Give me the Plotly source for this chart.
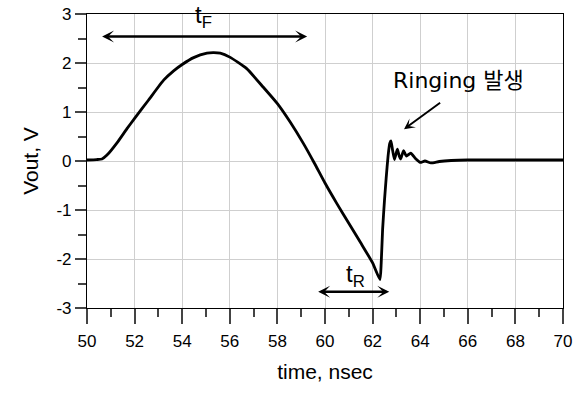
import plotly.graph_objects as go

# Waveform (time in ns, Vout in V)
time_ns = [50.0, 50.4, 50.63, 50.84, 51.26, 51.68, 52.0, 52.58, 53.22, 53.64, 54.0, 54.48,
           55.04, 55.3, 55.6, 56.0, 56.7, 57.4, 58.0, 58.53, 59.09, 59.55, 60.0,
           60.5, 61.0, 61.5, 62.0, 62.31, 62.36, 62.42, 62.5, 62.57, 62.65, 62.72, 62.77,
           62.84, 62.92, 63.04, 63.12, 63.18, 63.3, 63.42, 63.6, 63.8, 64.0, 64.2, 64.45,
           64.8, 65.3, 66.0, 67.0, 68.0, 69.0, 70.0]
vout = [0.02, 0.03, 0.04, 0.12, 0.37, 0.66, 0.87, 1.24, 1.65, 1.84, 1.97, 2.11,
        2.20, 2.21, 2.20, 2.12, 1.89, 1.51, 1.17, 0.80, 0.36, -0.04, -0.45,
        -0.87, -1.27, -1.67, -2.08, -2.42, -2.1, -1.4, -0.8, -0.35, 0.1, 0.36, 0.41,
        0.22, 0.03, 0.24, 0.1, 0.04, 0.21, 0.1, 0.16, 0.05, -0.03, 0.0, -0.04,
        -0.01, 0.01, 0.02, 0.02, 0.02, 0.02, 0.02]

x_ticks = [50, 52, 54, 56, 58, 60, 62, 64, 66, 68, 70]
x_tick_text = ["50", "52", "54", "56", "58", "60", "62", "64", "66", "68", "70"]
y_ticks = [-3, -2, -1, 0, 1, 2, 3]
y_tick_text = ["-3", "-2", "-1", "0", "1", "2", "3"]

x_title = "time, nsec"
y_title = "Vout, V"
ringing_label = "Ringing 발생"
tf_label = "t<sub>F</sub>"
tr_label = "t<sub>R</sub>"

# annotation anchor values (data units)
tf_span = [50.57, 59.25]
tf_level = 2.54
tr_span = [59.65, 62.7]
tr_level = -2.67
ring_arrow_tail = [64.9, 1.21]
ring_arrow_head = [63.32, 0.65]

FONT = "Liberation Sans, Arial, Noto Sans CJK KR, sans-serif"
WIDE = "DejaVu Sans, Noto Sans CJK KR, sans-serif"

fig = go.Figure()
fig.add_trace(go.Scatter(x=time_ns, y=vout, mode="lines",
                         line=dict(color="black", width=2.8, shape="spline", smoothing=0.5),
                         showlegend=False))

common_axis = dict(showline=True, mirror=True, linecolor="black", linewidth=1.2,
                   showgrid=True, gridcolor="#cfcfcf", gridwidth=1, zeroline=False,
                   ticks="outside", tickcolor="#444", tickwidth=1.5, automargin=False,
                   tickfont=dict(family=FONT, size=17, color="black"))

fig.update_xaxes(range=[50, 70], tickvals=x_ticks, ticktext=x_tick_text, ticklen=15,
                 ticklabelstandoff=2,
                 minor=dict(dtick=1, ticklen=8, ticks="outside", tickcolor="#444", showgrid=False),
                 title=dict(text=x_title, font=dict(family=FONT, size=21, color="black"), standoff=14),
                 **common_axis)
fig.update_yaxes(range=[-3, 3], tickvals=y_ticks, ticktext=y_tick_text, ticklen=11,
                 minor=dict(dtick=0.5, ticklen=8, ticks="outside", tickcolor="#444", showgrid=False),
                 title=dict(text=y_title, font=dict(family=FONT, size=21, color="black"), standoff=12),
                 **common_axis)

# double-headed arrows
fig.add_annotation(x=tf_span[1], y=tf_level, ax=tf_span[0], ay=tf_level, axref="x", ayref="y",
                   xref="x", yref="y", text="", showarrow=True, arrowhead=3, startarrowhead=3,
                   arrowside="end+start", arrowwidth=2.5, arrowsize=0.8, startarrowsize=0.8,
                   arrowcolor="black", standoff=0, startstandoff=0)
fig.add_annotation(x=tr_span[1], y=tr_level, ax=tr_span[0], ay=tr_level, axref="x", ayref="y",
                   xref="x", yref="y", text="", showarrow=True, arrowhead=3, startarrowhead=3,
                   arrowside="end+start", arrowwidth=2.5, arrowsize=0.8, startarrowsize=0.8,
                   arrowcolor="black", standoff=0, startstandoff=0)
fig.add_annotation(x=ring_arrow_head[0], y=ring_arrow_head[1], ax=ring_arrow_tail[0], ay=ring_arrow_tail[1],
                   axref="x", ayref="y", xref="x", yref="y", text="", showarrow=True, arrowhead=3,
                   arrowwidth=2, arrowsize=0.9, arrowcolor="black", standoff=0)

fig.add_annotation(x=54.9, y=3.0, xref="x", yref="y", text=tf_label, showarrow=False,
                   font=dict(family=FONT, size=24, color="black"), yanchor="middle", yshift=-2)
fig.add_annotation(x=61.3, y=-2.33, xref="x", yref="y", text=tr_label, showarrow=False,
                   font=dict(family=FONT, size=24, color="black"), yanchor="middle")
fig.add_annotation(x=65.6, y=1.65, xref="x", yref="y", text=ringing_label, showarrow=False,
                   font=dict(family=WIDE, size=22, color="black"), yanchor="middle")

fig.update_layout(width=579, height=393, margin=dict(l=87, r=16, t=14, b=85),
                  plot_bgcolor="white", paper_bgcolor="white")

fig.write_html("out.html")
